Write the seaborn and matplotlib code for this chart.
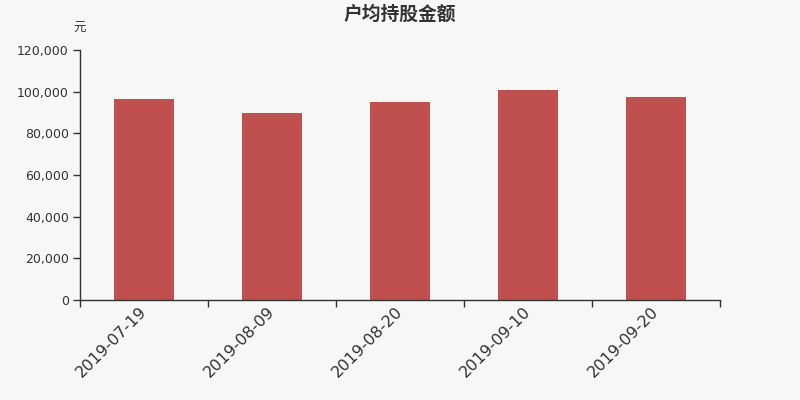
import matplotlib
matplotlib.use("Agg")
import matplotlib.pyplot as plt
import matplotlib.transforms as mtransforms
import seaborn as sns
import pandas as pd
from matplotlib.ticker import FuncFormatter, FixedLocator

dates = ["2019-07-19", "2019-08-09", "2019-08-20", "2019-09-10", "2019-09-20"]
values = [96500, 89900, 95000, 100800, 97400]
title = "户均持股金额"
unit = "元"

sns.set_theme(style="white")
plt.rcParams['font.family'] = ['DejaVu Sans', 'Noto Sans CJK SC']

bg = "#f7f7f7"
dark = "#333333"
fig = plt.figure(figsize=(8, 4), dpi=100, facecolor=bg)
ax = fig.add_axes([0.1, 0.25, 0.8, 0.625], facecolor=bg)

df = pd.DataFrame({"date": dates, "value": values})
sns.barplot(data=df, x="date", y="value", color="#c0504d", saturation=1,
            width=0.47, linewidth=0, ax=ax)

ax.set_xlim(-0.5, len(dates) - 0.5)
ax.set_ylim(0, 120000)
ax.set_yticks(range(0, 120001, 20000))
ax.yaxis.set_major_formatter(FuncFormatter(lambda v, p: f"{int(v):,}"))
ax.set_xlabel("")
ax.set_ylabel("")

for s in ["top", "right"]:
    ax.spines[s].set_visible(False)
for s in ["left", "bottom"]:
    ax.spines[s].set_color(dark)
    ax.spines[s].set_linewidth(1)

ax.xaxis.set_minor_locator(FixedLocator([i - 0.5 for i in range(len(dates) + 1)]))
ax.tick_params(axis="x", which="major", length=0, pad=6)
ax.tick_params(axis="x", which="minor", length=5, color=dark, width=1, direction="out", bottom=True)
ax.tick_params(axis="y", which="major", length=5, color=dark, width=1, direction="out", left=True,
               labelsize=9, labelcolor=dark, pad=3)
offset = mtransforms.ScaledTranslation(-5 / 100, 4 / 100, fig.dpi_scale_trans)
for lab in ax.get_xticklabels():
    lab.set_rotation(45)
    lab.set_ha("right")
    lab.set_va("top")
    lab.set_rotation_mode("anchor")
    lab.set_fontsize(11.5)
    lab.set_color(dark)
    lab.set_transform(lab.get_transform() + offset)

fig.text(0.5, 0.965, title, ha="center", va="center", fontsize=13.5, fontweight="bold",
         color=dark, family=["Noto Sans CJK SC", "DejaVu Sans"])
fig.text(0.1, 0.93, unit, ha="center", va="center", fontsize=9, color=dark,
         family=["Noto Sans CJK SC", "DejaVu Sans"])

fig.savefig("out.png", dpi=100, facecolor=bg)
